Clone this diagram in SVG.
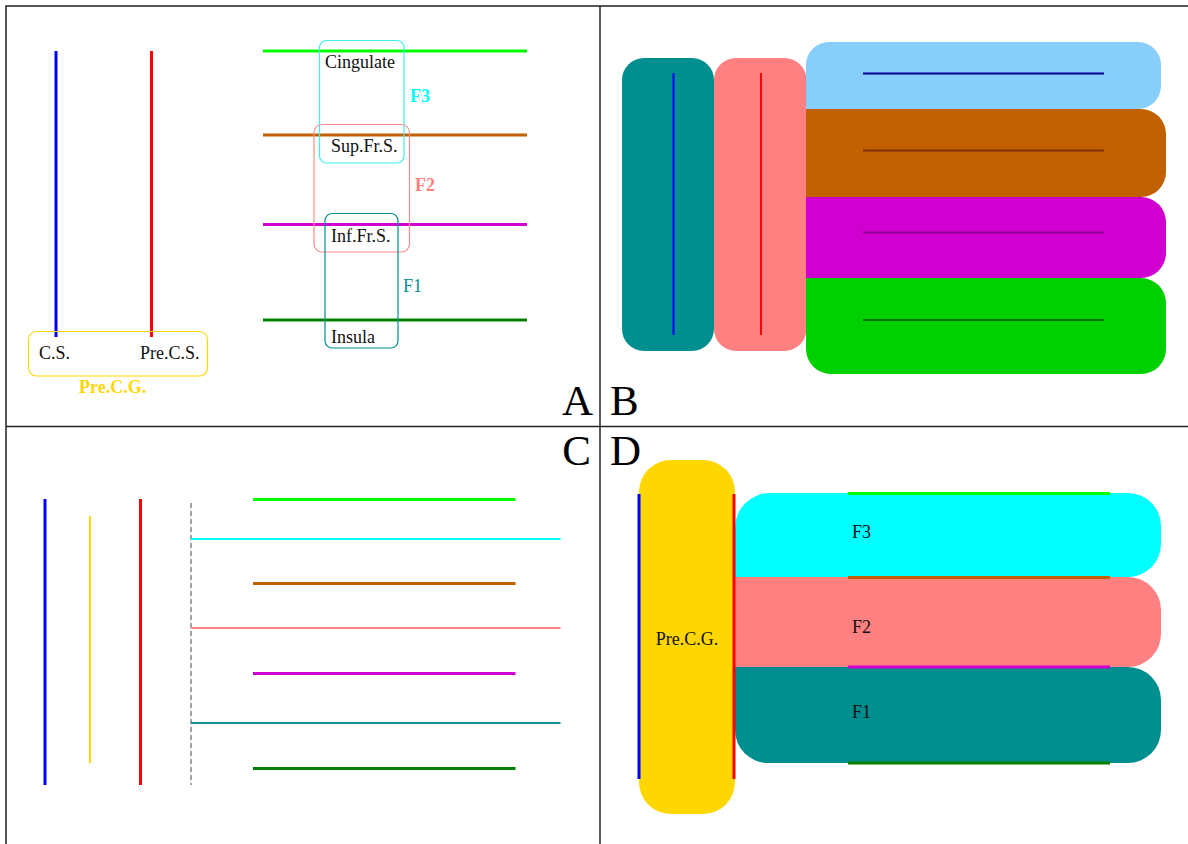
<svg xmlns="http://www.w3.org/2000/svg" width="1188" height="844" viewBox="0 0 1188 844">
<style>
text{font-family:"Liberation Serif","Times New Roman",serif;font-size:18px;fill:#111}
.big{font-size:43px;fill:#000}
.b{font-weight:bold}
.frame{stroke:#222;stroke-width:1.5;fill:none}
.thick{stroke-width:3;fill:none}
.mid{stroke-width:2;fill:none}
.box{fill:none;stroke-width:1.2}
</style>
<rect width="1188" height="844" fill="#fff"/>
<g id="frame">
<rect class="frame" x="6" y="6" width="1200" height="860"/>
<line class="frame" x1="600" y1="6" x2="600" y2="844"/>
<line class="frame" x1="6" y1="426.5" x2="1188" y2="426.5"/>
<text class="big" x="593" y="415" text-anchor="end">A</text>
<text class="big" x="610" y="415">B</text>
<text class="big" x="591" y="465" text-anchor="end">C</text>
<text class="big" x="610" y="465">D</text>
</g>
<!-- Panel A -->
<g id="panelA">
<g id="A-cs"><line class="thick" x1="56" y1="51" x2="56" y2="337" stroke="#0000FF"/></g>
<g id="A-pcs"><line class="thick" x1="151.5" y1="51" x2="151.5" y2="337" stroke="#FF0000"/></g>
<g id="A-precg">
<rect class="box" x="28.5" y="331.5" width="179" height="44.5" rx="8" stroke="#FFD700"/>
<text x="39" y="359">C.S.</text>
<text x="140" y="359">Pre.C.S.</text>
<text class="b" x="79" y="393" fill="#FFD700" style="fill:#FFD700">Pre.C.G.</text>
</g>
<g id="A-sulci">
<line class="thick" x1="263" y1="51" x2="527" y2="51" stroke="#00FF00"/>
<line class="thick" x1="263" y1="135" x2="527" y2="135" stroke="#C06000"/>
<line class="thick" x1="263" y1="224.5" x2="527" y2="224.5" stroke="#D000D0"/>
<line class="thick" x1="263" y1="320" x2="527" y2="320" stroke="#008000"/>
</g>
<g id="A-F3">
<rect class="box" x="319.5" y="40.5" width="84.5" height="122.5" rx="7" stroke="#40F0F0"/>
<text class="b" x="410" y="102" style="fill:#00FFFF">F3</text>
</g>
<g id="A-F2">
<rect class="box" x="314" y="124.5" width="95.5" height="127.5" rx="8" stroke="#FF8C8C"/>
<text class="b" x="415" y="191" style="fill:#FF8080">F2</text>
</g>
<g id="A-F1">
<rect class="box" x="325" y="213.5" width="73" height="134.5" rx="7" stroke="#009090"/>
<text x="403" y="292" style="fill:#009090">F1</text>
</g>
<g id="A-labels">
<text x="325" y="68">Cingulate</text>
<text x="331" y="152">Sup.Fr.S.</text>
<text x="331" y="242">Inf.Fr.S.</text>
<text x="331" y="343">Insula</text>
</g>
</g>
<!-- Panel B -->
<g id="panelB">
<g id="B-teal"><rect x="622" y="58" width="92" height="293" rx="22" fill="#008E8E"/>
<line class="mid" x1="673.5" y1="73" x2="673.5" y2="335" stroke="#0000FF"/></g>
<g id="B-salmon"><rect x="714" y="58" width="92.5" height="293" rx="22" fill="#FF8080"/>
<line class="mid" x1="761" y1="73" x2="761" y2="335" stroke="#FF0000"/></g>
<g id="B-lightblue"><path d="M806,109 V65 A23,23 0 0 1 829,42 H1138 A23,23 0 0 1 1161,65 V86 A23,23 0 0 1 1138,109 Z" fill="#87CEFA"/>
<line class="mid" x1="863" y1="73.5" x2="1104" y2="73.5" stroke="#000090"/></g>
<g id="B-brown"><path d="M806,109 H1141 A25,25 0 0 1 1166,134 V172 A25,25 0 0 1 1141,197 H806 Z" fill="#C06000"/>
<line class="mid" x1="863" y1="150.5" x2="1104" y2="150.5" stroke="#803000"/></g>
<g id="B-magenta"><path d="M806,197 H1141 A25,25 0 0 1 1166,222 V253 A25,25 0 0 1 1141,278 H806 Z" fill="#D000D0"/>
<line class="mid" x1="863" y1="232.5" x2="1104" y2="232.5" stroke="#900090"/></g>
<g id="B-green"><path d="M806,278 H1141 A25,25 0 0 1 1166,303 V349 A25,25 0 0 1 1141,374 H831 A25,25 0 0 1 806,349 Z" fill="#00D000"/>
<line class="mid" x1="863" y1="320" x2="1104" y2="320" stroke="#007000"/></g>
</g>
<!-- Panel C -->
<g id="panelC">
<line class="thick" x1="45" y1="499" x2="45" y2="785" stroke="#0000FF"/>
<line class="mid" x1="90" y1="516" x2="90" y2="763" stroke="#FFD700"/>
<line class="thick" x1="140.5" y1="499" x2="140.5" y2="785" stroke="#FF0000"/>
<line x1="191" y1="503" x2="191" y2="785" stroke="#666" stroke-width="1.2" stroke-dasharray="5,3"/>
<line class="thick" x1="253" y1="499.5" x2="515.5" y2="499.5" stroke="#00FF00"/>
<line class="mid" x1="191" y1="539" x2="560.5" y2="539" stroke="#00FFFF"/>
<line class="thick" x1="253" y1="583.5" x2="515.5" y2="583.5" stroke="#C06000"/>
<line class="mid" x1="191" y1="628" x2="560.5" y2="628" stroke="#FF8080"/>
<line class="thick" x1="253" y1="673.5" x2="515.5" y2="673.5" stroke="#D000D0"/>
<line class="mid" x1="191" y1="723" x2="560.5" y2="723" stroke="#108E9A"/>
<line class="thick" x1="253" y1="768.5" x2="515.5" y2="768.5" stroke="#008000"/>
</g>
<!-- Panel D -->
<g id="panelD">
<g id="D-precg"><rect x="639" y="460" width="96" height="354" rx="32" fill="#FFD700"/>
<text x="687" y="645" text-anchor="middle">Pre.C.G.</text></g>
<g id="D-F3"><path d="M735,577 V528 A35,35 0 0 1 770,493 H1128 A33,33 0 0 1 1161,526 V544 A33,33 0 0 1 1128,577 Z" fill="#00FFFF"/>
<text x="852" y="538">F3</text></g>
<g id="D-F2"><path d="M735,577 H1128 A33,33 0 0 1 1161,610 V634 A33,33 0 0 1 1128,667 H735 Z" fill="#FF8080"/>
<text x="852" y="633">F2</text></g>
<g id="D-F1"><path d="M735,667 H1128 A33,33 0 0 1 1161,700 V730 A33,33 0 0 1 1128,763 H768 A33,33 0 0 1 735,730 Z" fill="#008E8E"/>
<text x="852" y="718">F1</text></g>
<g id="D-lines">
<line class="thick" x1="639" y1="494" x2="639" y2="779" stroke="#0000FF"/>
<line class="thick" x1="734" y1="494" x2="734" y2="779" stroke="#FF0000"/>
<line class="thick" x1="848" y1="493.5" x2="1110" y2="493.5" stroke="#00FF00"/>
<line class="thick" x1="848" y1="577.5" x2="1110" y2="577.5" stroke="#C06000"/>
<line class="thick" x1="848" y1="667" x2="1110" y2="667" stroke="#D000D0"/>
<line class="thick" x1="848" y1="763" x2="1110" y2="763" stroke="#008000"/>
</g>
</g>
</svg>
